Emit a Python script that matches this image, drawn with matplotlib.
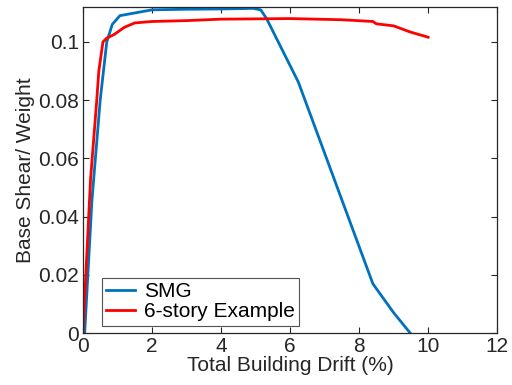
import matplotlib
matplotlib.use("Agg")
import matplotlib.pyplot as plt
import numpy as np

plt.rcParams['font.family'] = ['Liberation Sans', 'DejaVu Sans']

# pushover curves: drift (%) vs base shear / weight
smg_drift = [0.0, 0.05, 0.26, 0.5, 0.69, 0.85, 1.07, 2.0, 3.0, 4.0, 4.93, 5.15, 5.32, 6.24, 8.4, 9.0, 9.48]
smg_shear = [0.0, 0.0, 0.0455, 0.080, 0.100, 0.106, 0.109, 0.1110, 0.1112, 0.1113, 0.1115, 0.111, 0.108, 0.0862, 0.0169, 0.007, 0.0]

ex_drift = [0.0, 0.22, 0.40, 0.46, 0.58, 0.69, 0.9, 1.2, 1.5, 2.0, 3.0, 4.0, 6.0, 7.5, 8.4, 8.5, 9.0, 9.48, 10.0]
ex_shear = [0.0, 0.0528, 0.080, 0.090, 0.100, 0.1013, 0.1025, 0.1050, 0.1065, 0.1070, 0.1073, 0.1078, 0.1080, 0.1076, 0.1070, 0.1062, 0.1055, 0.1034, 0.1016]

fig = plt.figure(figsize=(5.12, 3.85), dpi=100)
ax = fig.add_axes([0.162, 0.135, 0.809, 0.847])

ax.plot(smg_drift, smg_shear, color=(0, 0.447, 0.741), lw=2, label='SMG')
ax.plot(ex_drift, ex_shear, color='red', lw=2, label='6-story Example')

ax.set_xlim(0, 12)
ax.set_ylim(0, 0.112)
ax.set_xticks(np.arange(0, 13, 2))
ax.set_yticks([0, 0.02, 0.04, 0.06, 0.08, 0.1])
ax.set_yticklabels(['0', '0.02', '0.04', '0.06', '0.08', '0.1'])

ax.tick_params(direction='in', top=True, right=True, labelsize=15, pad=3,
               colors=(0.15, 0.15, 0.15), length=4, width=0.8)
for s in ax.spines.values():
    s.set_color((0.15, 0.15, 0.15))
    s.set_linewidth(0.9)

ax.set_xlabel('Total Building Drift (%)', fontsize=15, color=(0.15, 0.15, 0.15), labelpad=0)
ax.set_ylabel('Base Shear/ Weight', fontsize=15, color=(0.15, 0.15, 0.15), labelpad=2)

leg = ax.legend(loc='lower left', bbox_to_anchor=(0.035, 0.01), fontsize=15,
                frameon=True, fancybox=False, handlelength=1.4,
                borderpad=0.2, labelspacing=0.05, handletextpad=0.45,
                borderaxespad=0.2)
leg.get_frame().set_edgecolor((0.15, 0.15, 0.15))
leg.get_frame().set_linewidth(0.8)

fig.savefig('out.png', dpi=100)
